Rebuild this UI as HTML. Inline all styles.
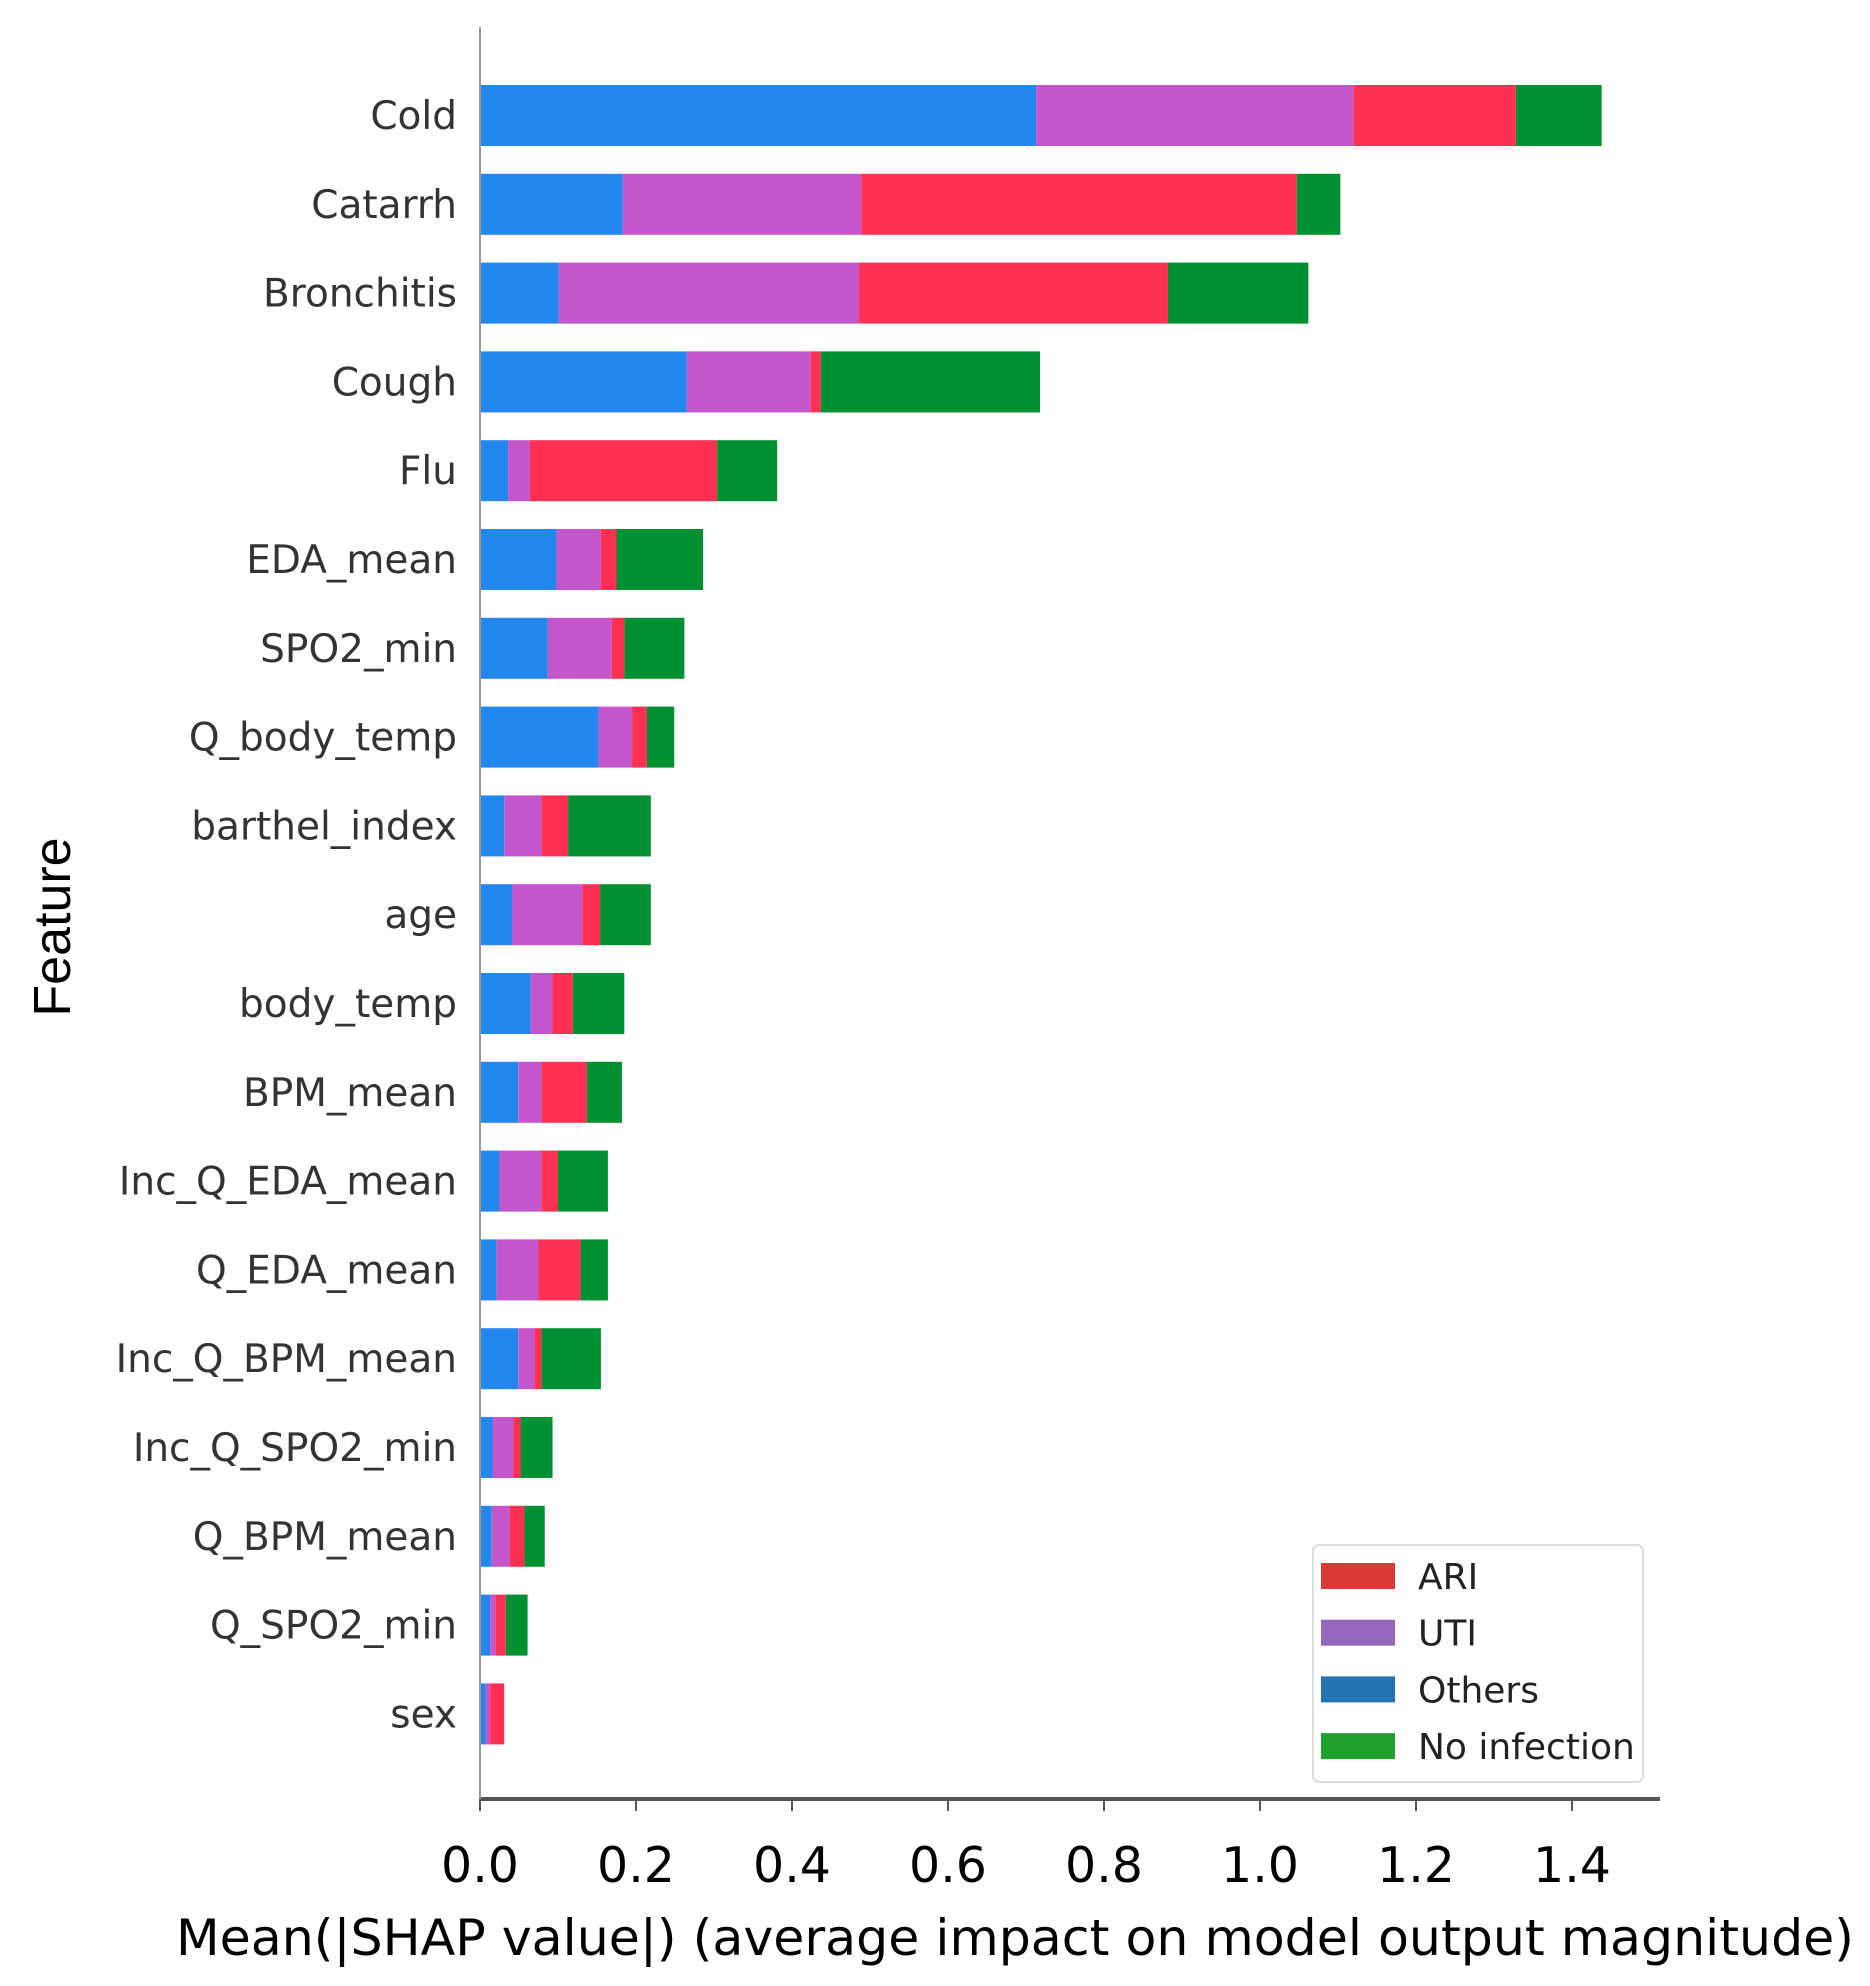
<!DOCTYPE html>
<html><head><meta charset="utf-8"><style>
html,body{margin:0;padding:0;background:#fff;}
svg{display:block;}
text{font-family:"DejaVu Sans","Liberation Sans",sans-serif;}
</style></head>
<body>
<svg id="chart" width="1870" height="1986" viewBox="0 0 1870 1986" xmlns="http://www.w3.org/2000/svg">
<g id="bars"></g>
<g id="ylabels"></g>
<g id="xaxis"></g>
<line x1="480" y1="27" x2="480" y2="1799" stroke="#999" stroke-width="2"/>
<text transform="translate(70,927) rotate(-90)" text-anchor="middle" font-size="52" fill="#000" style="font-family:'Liberation Sans',sans-serif">Feature</text>
<text x="1015" y="1955" text-anchor="middle" font-size="50" fill="#000" textLength="1678" lengthAdjust="spacingAndGlyphs">Mean(|SHAP value|) (average impact on model output magnitude)</text>
<g>
<rect x="1313" y="1545" width="330" height="237" rx="6" fill="#fff" stroke="#ddd" stroke-width="2"/>
<g id="legend-items"></g>
</g>
</svg>
<script>
const features = ["Cold","Catarrh","Bronchitis","Cough","Flu","EDA_mean","SPO2_min","Q_body_temp","barthel_index","age","body_temp","BPM_mean","Inc_Q_EDA_mean","Q_EDA_mean","Inc_Q_BPM_mean","Inc_Q_SPO2_min","Q_BPM_mean","Q_SPO2_min","sex"];
const others = [0.713,0.183,0.101,0.265,0.036,0.098,0.087,0.152,0.031,0.041,0.065,0.049,0.025,0.021,0.049,0.016,0.015,0.013,0.007];
const uti    = [0.407,0.306,0.385,0.159,0.028,0.057,0.082,0.043,0.048,0.090,0.028,0.030,0.054,0.054,0.021,0.027,0.023,0.007,0.006];
const ari    = [0.208,0.558,0.396,0.013,0.240,0.020,0.016,0.019,0.034,0.023,0.026,0.058,0.021,0.054,0.009,0.009,0.019,0.013,0.018];
const noinf  = [0.110,0.056,0.180,0.281,0.077,0.111,0.077,0.035,0.106,0.065,0.066,0.045,0.064,0.035,0.076,0.041,0.026,0.028,0.000];
const xTicks = [0.0,0.2,0.4,0.6,0.8,1.0,1.2,1.4];
const seriesNames = ["Others","UTI","ARI","No infection"];
const legendNames = ["ARI","UTI","Others","No infection"];

const NS="http://www.w3.org/2000/svg";
const X0=480, PX=780;
function xs(v){return X0+v*PX;}
function ys(i){return 115+i*88.8;}
const colors={"Others":"#2487EE","UTI":"#C456CC","ARI":"#FE3152","No infection":"#008F31"};
const legColors={"ARI":"#D93A33","UTI":"#9467BD","Others":"#2474B5","No infection":"#22A02F"};
const series=[others,uti,ari,noinf];
function mk(tag,attrs,parent){const e=document.createElementNS(NS,tag);for(const k in attrs)e.setAttribute(k,attrs[k]);parent.appendChild(e);return e;}
const gb=document.getElementById('bars'), gl=document.getElementById('ylabels'), gx=document.getElementById('xaxis');
features.forEach((f,i)=>{
  let acc=0;
  series.forEach((s,j)=>{
    const r=mk('rect',{x:xs(acc),y:ys(i)-30,width:Math.max(0,xs(acc+s[i])-xs(acc)),height:61,fill:colors[seriesNames[j]]},gb);
    
    
    acc+=s[i];
  });
  const t=mk('text',{x:457,y:ys(i)+14,'text-anchor':'end','font-size':39,fill:'#333'},gl);
  t.textContent=f;
  
  
});
const ax=mk('line',{x1:480,y1:1799,x2:1660,y2:1799,stroke:'#555','stroke-width':4},gx);


xTicks.forEach(v=>{
  const tk=mk('line',{x1:xs(v),y1:1799,x2:xs(v),y2:1811,stroke:'#555','stroke-width':2},gx);
  
  
  const t=mk('text',{x:xs(v),y:1882,'text-anchor':'middle','font-size':49,fill:'#000'},gx);
  t.textContent=v.toFixed(1);
  
  
});
const gi=document.getElementById('legend-items');
legendNames.forEach((n,i)=>{
  const cy=1576+i*56.7;
  const r=mk('rect',{x:1321,y:cy-13,width:74,height:26,fill:legColors[n]},gi);
  
  
  const t=mk('text',{x:1418,y:cy+13,'font-size':36,fill:'#222'},gi);
  t.textContent=n;
  
  
});
</script>
</body></html>
